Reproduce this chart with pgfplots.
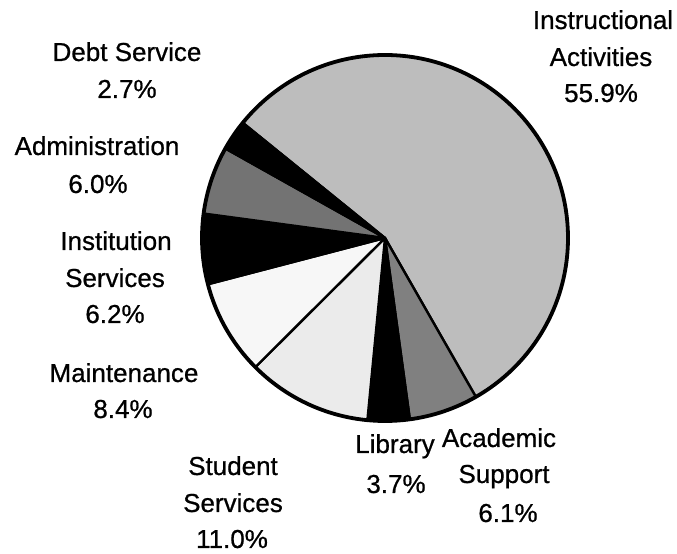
\documentclass[border=0pt]{standalone}
\usepackage{pgfplots}
\pgfplotsset{compat=1.18}
\usepackage{pgfplotstable}
\usepackage{fontspec}
\setmainfont{Liberation Sans}
\newfontfamily\labfont[FakeBold=0.7]{Liberation Sans}

\pgfplotstableread{
idx pct
0 55.9
1 6.1
2 3.7
3 11.0
4 8.4
5 6.2
6 6.0
7 2.7
}\piedata

\definecolor{c0}{gray}{0.74}
\definecolor{c1}{gray}{0.50}
\definecolor{c2}{gray}{0.0}
\definecolor{c3}{gray}{0.92}
\definecolor{c4}{gray}{0.97}
\definecolor{c5}{gray}{0.0}
\definecolor{c6}{gray}{0.45}
\definecolor{c7}{gray}{0.0}

\newcommand{\lab}[3]{\node[anchor=base, inner sep=0pt, font=\labfont\fontsize{26bp}{31bp}\selectfont] at (axis cs:#1,#2) {#3};}

\begin{document}
\begin{tikzpicture}
\begin{axis}[x=1bp, y=1bp, xmin=0, xmax=677, ymin=0, ymax=554,
  hide axis, clip=false, scale only axis]
\path (axis cs:0,0) rectangle (axis cs:677,554);
\pgfmathsetmacro\angA{141}
\pgfplotsforeachungrouped \i in {0,...,7}{%
  \pgfplotstablegetelem{\i}{pct}\of\piedata
  \pgfmathsetmacro\angB{\angA-3.6*\pgfplotsretval}
  \edef\tmp{\noexpand\filldraw[fill=c\i, draw=black, line width=2.4bp, line join=round]
    (axis cs:385,316) -- (axis cs:{385+183*cos(\angA)},{316+183*sin(\angA)})
    arc[start angle=\angA, end angle=\angB, radius=183bp] -- cycle;}
  \tmp
  \global\let\angA\angB
}
\draw[line width=3.8bp] (axis cs:385,316) circle[radius=183bp];

\lab{127}{493}{Debt Service}
\lab{127}{456}{2.7\%}
\lab{97}{399}{Administration}
\lab{98}{361}{6.0\%}
\lab{116}{304}{Institution}
\lab{115}{267}{Services}
\lab{115}{231}{6.2\%}
\lab{124}{172}{Maintenance}
\lab{123}{136}{8.4\%}
\lab{233}{79}{Student}
\lab{233}{42}{Services}
\lab{232}{6}{11.0\%}
\lab{395}{101}{Library}
\lab{396}{61}{3.7\%}
\lab{499}{107}{Academic}
\lab{504}{71}{Support}
\lab{508}{32}{6.1\%}
\lab{603}{525}{Instructional}
\lab{601}{488}{Activities}
\lab{601}{452}{55.9\%}
\end{axis}
\end{tikzpicture}
\end{document}
